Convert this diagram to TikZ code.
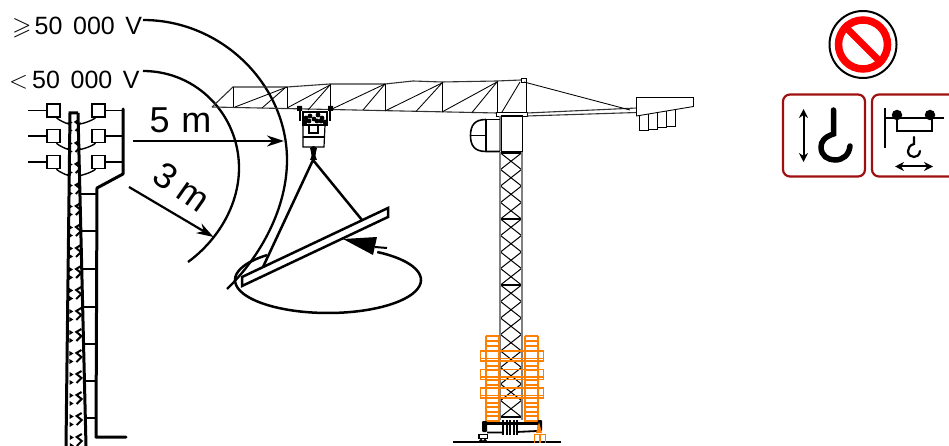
\documentclass[tikz,border=0pt]{standalone}
\usepackage{amssymb}
\usepackage{fontspec}
\setmainfont{Liberation Sans}
\usetikzlibrary{arrows.meta,calc}
\definecolor{signred}{HTML}{FF0000}
\definecolor{boxred}{HTML}{A00F0F}
\definecolor{stackorange}{HTML}{FF8000}
\definecolor{mastgrey}{HTML}{808080}

\begin{document}
\begin{tikzpicture}[
  x=1pt,
  y=-1pt,
  volt/.style={font=\fontsize{25}{25}\selectfont,inner sep=0pt,anchor=base west},
  dist/.style={font=\fontsize{36}{36}\selectfont,inner sep=0pt},
  radius line/.style={line width=2.3pt},
  reach/.style={
    -{Stealth[length=17pt,width=11pt]},line width=2.2pt
  },
  cable/.style={line width=1.4pt},
  heavy/.style={line width=3pt},
  rung/.style={line width=1.8pt},
  insulator/.style={
    rectangle,draw=black,fill=white,minimum size=13pt,inner sep=0pt,line width=1.2pt
  },
  jibline/.style={line width=.85pt},
  jibedge/.style={line width=1.1pt,draw=black!80},
  stack/.style={draw=stackorange,line width=1.1pt},
  sling/.style={line width=2.5pt},
  signbox/.style={draw=boxred,line width=2.2pt,rounded corners=7pt},
  lift/.style={{Stealth[length=9pt,width=9pt]}-{Stealth[length=9pt,width=9pt]},line width=2pt}
]
  \useasboundingbox (0,0) rectangle (949,446);

  % voltage labels and their limits
  \node[volt] (volt-high) at (12,34.5) {$\geqslant$\hspace{.12em}50\hspace{.43em}000\hspace{.42em}V};
  \node[volt] (volt-low) at (9,89) {$<$\hspace{.16em}50\hspace{.43em}000\hspace{.42em}V};
  \coordinate (high-end) at (227,289);
  \coordinate (low-end) at (188,262);
  \draw[radius line] (143,20) coordinate (high-start)
    .. controls (222,20) and (287,85) .. (287,160) .. controls (287,208) and (261,256) .. (high-end);
  \draw[radius line] (143,71) coordinate (low-start)
    .. controls (197,71) and (239,115) .. (239,168) .. controls (239,205) and (218,240) .. (low-end);
  \node[dist] (dist-five) at (180.5,120) {5\hspace{.32em}m};
  \node[dist,rotate=-35] (dist-three) at (181.5,187) {3\hspace{.26em}m};
  \coordinate (five-a) at (133,141);
  \coordinate (five-b) at (284,141);
  \coordinate (three-a) at (129,187);
  \coordinate (three-b) at (213.5,237);
  \draw[reach] (five-a) -- (five-b);
  \draw[reach] (three-a) -- (three-b);

  % pole with lattice
  \begin{scope}
    \clip (70,113) -- (78,113) -- (86,446) -- (66,446) -- cycle;
    \foreach \row in {0,...,15} {
      \pgfmathsetmacro{\yy}{125+21*\row}
      \pgfmathsetmacro{\xx}{74.5+0.004*21*\row}
      \draw[line width=2pt] (\xx+6,\yy-6) -- (\xx+1,\yy-3) -- (\xx+6,\yy+1) -- (\xx+1,\yy+6);
      \fill (\xx-6,\yy-5) -- (\xx-2,\yy-2.5) -- (\xx-6,\yy) -- cycle;
      \fill (\xx-6,\yy+3) -- (\xx-2,\yy+5.5) -- (\xx-6,\yy+8) -- cycle;
    }
  \end{scope}
  \draw[heavy] (78,113) -- (70,113) -- (66,446);
  \draw[heavy] (78,113) -- (86,446);
  \foreach \row/\yy in {a/110.5,b/136,c/162} {
    \node[insulator] (ins-l\row) at (53.5,\yy) {};
    \node[insulator] (ins-r\row) at (98.5,\yy) {};
    \coordinate (wire-l\row) at (28,\yy);
    \coordinate (wire-r\row) at (123,\yy);
    \draw[cable] (wire-l\row) -- (ins-l\row);
    \draw[cable] (ins-r\row) -- (wire-r\row);
    \draw[cable] (ins-l\row.south) ++(3,0) .. controls +(2,3) and +(6,4) .. +(11,5);
    \draw[cable] (ins-r\row.south) ++(-3,0) .. controls +(-2,3) and +(-6,4) .. +(-15,5);
  }
  \draw[heavy,line join=round,line cap=round] (123,109) -- (123,174) -- (97,188) -- (96,437) -- (126,437);
  \foreach \yy in {194,231,269,307,344,381,418} {
    \draw[rung] ({80+(\yy-194)*0.024},\yy) -- (96.5,\yy);
  }

  % jib
  \draw[jibedge] (212,107) -- (233,87) -- (287,87) -- (330,84) -- (385,84) -- (413,81) -- (442,82) -- (497,81) -- (521,80);
  \draw[jibedge] (212,107) -- (497,113);
  \foreach \xa/\ya/\yb in {233/87/107,287/87/108,330/84/109,385/84/110.5,442/82/112,497/81/113} {
    \draw[jibline] (\xa,\ya) -- (\xa,\yb);
  }
  \foreach \xa/\ya/\xb/\yb in {235/107/287/87,262/108/285/88,287/108/330/85,308/110/330/85,332/109/385/84,363/110/385/84,385/111/442/83,416/111.5/442/83,442/112/497/82,472/112.5/497/82,502/112/520/82} {
    \draw[jibline] (\xa,\ya) -- (\xb,\yb);
  }
  \draw[jibline] (521,82) rectangle (526.5,78);
  \draw[jibline] (526.5,80) -- (526.5,112);
  \draw[jibline] (496,112) rectangle (527,116);
  \draw[jibedge] (527,113) -- (637,108);
  \draw[jibedge] (527,116) -- (637,112.5);
  \draw[jibline] (524,82) -- (630,110);
  \draw[jibline,fill=white] (636.5,97.5) -- (693.5,97.5) -- (693.5,106.5) -- (636.5,116) -- cycle;
  \draw[jibline] (639.5,115.5) -- (639.5,130.5) -- (648.5,130.5) -- (648.5,114);
  \draw[jibline] (648.5,129.5) -- (657.5,129.5) -- (657.5,112.5);
  \draw[jibline] (657.5,127.5) -- (666.5,127.5) -- (666.5,111);
  \draw[jibline] (666.5,126) -- (675.5,126) -- (675.5,110);

  % cab and tower head
  \draw[line width=1.1pt] (501.5,116) rectangle (522.5,151.5);
  \draw[line width=1.6pt,draw=mastgrey] (500,116) -- (500,151.5);
  \draw[line width=1.1pt] (486,119.5) -- (500,119.5);
  \draw[line width=1.1pt] (486,119.5) -- (486,151.5);
  \draw[line width=1.6pt] (500,151.5) -- (486,151.5) .. controls (474,151.5) and (470.5,145) .. (470.5,135.5) .. controls (470.5,125) and (475,119.5) .. (486,119.5);
  \draw[line width=1.8pt] (471,135.5) -- (487,135.5);
  \draw[line width=1.6pt] (501,151.5) -- (523,151.5);

  % mast
  \foreach \step in {0,...,15} {
    \pgfmathsetmacro{\yy}{153+16.5*\step}
    \draw[line width=1pt] (500.5,\yy) -- (521.5,\yy+16.5);
    \draw[line width=1pt] (521.5,\yy) -- (500.5,\yy+16.5);
  }
  \foreach \yy in {153,219,285,351,417} {
    \draw[line width=1.5pt] (500,\yy) -- (522,\yy);
  }
  \draw[line width=1.8pt,draw=mastgrey] (500,152) -- (500,420);
  \draw[line width=1.8pt,draw=mastgrey] (522,152) -- (522,420);

  % ballast stacks
  \foreach \xa/\xb in {486/499,525/538} {
    \foreach \yy in {336,341,346,351,361,366,370,380,385,388,398,403,407,412,416} {
      \draw[stack] (\xa,\yy) -- (\xb,\yy);
    }
    \draw[stack] (\xa,336) -- (\xa,421) -- (\xb,421) -- (\xb,336);
  }
  \foreach \yy in {351,369.5,388} {
    \draw[stack] (480.5,\yy) rectangle (543.5,\yy+10);
    \draw[stack] (480.5,\yy+7.5) -- (543.5,\yy+7.5);
  }

  % chassis on the ground
  \draw[line width=1.8pt] (453,442) -- (561,442);
  \draw[line width=3pt] (484,423) -- (540,423);
  \draw[line width=1.8pt] (487,432.5) -- (503,432.5) (516,432) -- (537,431);
  \fill[rounded corners=1pt] (482,421) rectangle (487,432);
  \fill[rounded corners=1pt] (537.5,420) rectangle (542,431);
  \foreach \xx in {503,506.5,510,513.5,517} {
    \draw[line width=2pt] (\xx,420) -- (\xx,435);
  }
  \draw[line width=1.3pt] (479,434.5) rectangle (487.5,438.5);
  \fill (481,440.5) circle (1.8) (485,440.5) circle (1.8);
  \fill[stackorange] (539,422) -- (542,433) -- (536,433) -- cycle;
  \draw[stack] (534.5,443) -- (534.5,434.5) -- (545.5,434.5) -- (545.5,443) (540,434.5) -- (540,443);

  % trolley and load
  \fill (297,106) rectangle (302,111) (328,106) rectangle (333,111);
  \draw[line width=2.2pt] (300,110) -- (300,121) (330,110) -- (330,121);
  \draw[line width=1.3pt] (303,112) rectangle (327,125);
  \foreach \xx/\yy in {306/118,310/116,314/119,318/115,322/118,309/121,317/121,321/121,305/122,325/122} {
    \fill (\xx,\yy) circle (2.4);
  }
  \draw[line width=1.2pt] (303,125) -- (303,147) -- (324,147) -- (325,125);
  \draw[line width=1.2pt] (303,137) -- (324,137);
  \draw[line width=1.1pt] (309,125) rectangle (318,133);
  \fill (310,148) -- (313.5,146) -- (317,148) -- (316,152) -- (315.5,156) -- (317,160) -- (310,160) -- (311.5,156) -- (311,152) -- cycle;

  \coordinate (sling-top) at (313,160);
  \coordinate (sling-left) at (263,267);
  \coordinate (sling-right) at (362,220);
  \draw[sling] (sling-left) -- (sling-top) -- (sling-right);
  \draw[sling,line join=miter] (242,277) -- (388,208) -- (388,217) -- (242,286) -- cycle;
  \draw[sling] plot[smooth,domain=-58:229,samples=60] ({328+93*cos(\x)},{280+33*sin(\x)});
  \coordinate (turn-tip) at (343,239);
  \fill (turn-tip) -- (377,237) -- (373,255) -- cycle;
  \draw[line width=2pt] (375,247) -- (387,248);

  % signs
  \node[circle,draw=black,fill=white,line width=2pt,minimum size=67pt,inner sep=0pt] (sign-ban) at (863,44.5) {};
  \node[circle,draw=signred,fill=white,line width=7.5pt,minimum size=49pt,inner sep=0pt] (sign-ring) at (863,44.5) {};
  \draw[draw=signred,line width=7pt] (sign-ring.135) -- (sign-ring.-45);

  \draw[signbox] (783,94.5) rectangle (865,176.5);
  \coordinate (updown-a) at (803.5,109);
  \coordinate (updown-b) at (803.5,162);
  \draw[lift] (updown-a) -- (updown-b);
  \draw[line width=5.5pt,line cap=round] (833.5,110) -- (833.5,134)
    .. controls (824,137) and (821,142) .. (821,147) .. controls (821,156) and (828,160) .. (835,160)
    .. controls (843,160) and (849,155) .. (850,146);

  \draw[signbox] (952,94.5) -- (872,94.5) -- (872,176.5) -- (952,176.5);
  \draw[line width=2pt] (884.5,108.5) -- (884.5,148.5);
  \draw[line width=2pt] (884.5,118.5) -- (943.5,118.5);
  \node[circle,fill=black,minimum size=10.5pt,inner sep=0pt] (wheel-a) at (897,115) {};
  \node[circle,fill=black,minimum size=10.5pt,inner sep=0pt] (wheel-b) at (930,115) {};
  \draw[line width=2pt] (897,118) -- (897,131.5) -- (932,131.5) -- (932,118);
  \draw[line width=2.2pt,line cap=round] (914,137) -- (914,144)
    .. controls (910,145) and (908,148) .. (908,151) .. controls (908,155) and (911,157) .. (914,157)
    .. controls (917,157) and (919.5,155) .. (920,151);
  \coordinate (travel-a) at (895,166.5);
  \coordinate (travel-b) at (933,166.5);
  \draw[lift] (travel-a) -- (travel-b);
\end{tikzpicture}
\end{document}
